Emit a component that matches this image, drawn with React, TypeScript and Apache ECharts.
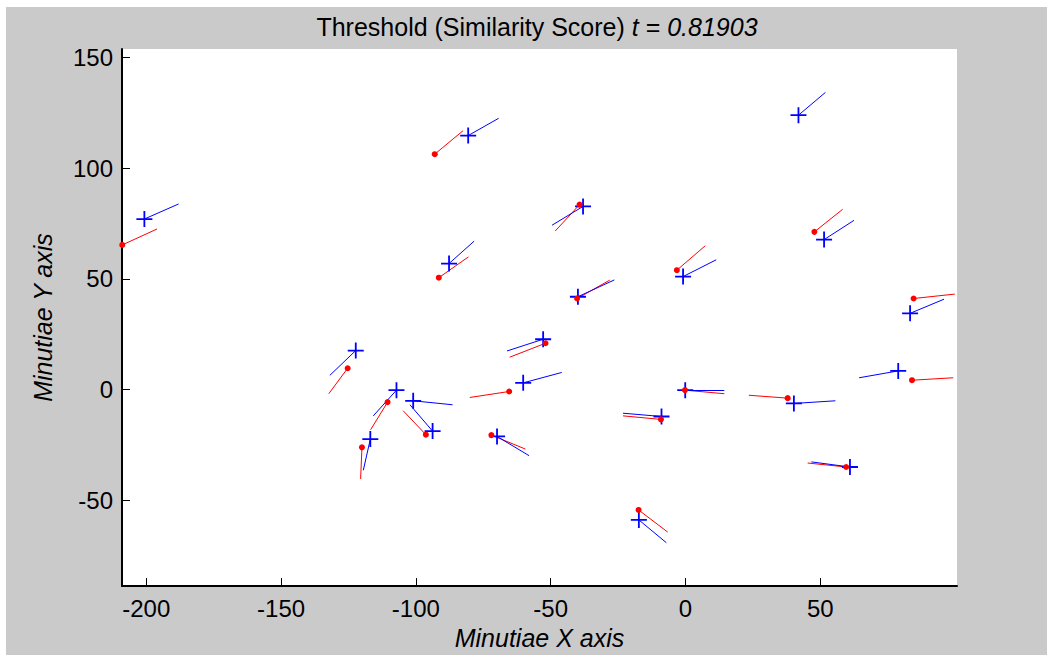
import { useEffect, useRef } from "react";
import * as echarts from "echarts";

const xTicks = [-200, -150, -100, -50, 0, 50];
const yTicks = [-50, 0, 50, 100, 150];

// Template minutiae (red): [x, y, directionEndX, directionEndY]
const templateMinutiae = [
  [-208.9, 65.3, -196, 72.5],
  [-93, 106.3, -82.5, 116.9],
  [-39.3, 83.5, -48.3, 71.6],
  [-3.2, 53.9, 7.3, 64.9],
  [-40.2, 41.1, -28.1, 49.4],
  [47.8, 71.2, 58.3, 81.4],
  [84.6, 41.1, 99.9, 43.1],
  [-91.5, 50.5, -80.5, 59.9],
  [-125.3, 9.6, -132.3, -1.9],
  [-110.5, -5.7, -116.8, -18.2],
  [-120, -26.1, -120.5, -40.4],
  [-96.3, -20.4, -104.7, -9.6],
  [-65.4, -0.9, -80, -3.6],
  [-51.9, 20.9, -65.2, 14.6],
  [-72, -20.6, -59.4, -26.9],
  [-9.1, -13.5, -23.2, -11.9],
  [-0.2, -0.3, 14.4, -1.9],
  [37.9, -3.9, 23.5, -2.6],
  [84, 4.2, 99.3, 5.3],
  [59.6, -35, 45.3, -33.2],
  [-17.4, -54.4, -6.6, -64.4],
];

// Query minutiae (blue): [x, y, directionEndX, directionEndY]
const queryMinutiae = [
  [-200.7, 77, -188, 83.8],
  [-80.6, 114.7, -69.3, 122.5],
  [41.9, 123.9, 51.9, 134.2],
  [-38, 82.7, -49.5, 74.2],
  [-0.9, 51, 11.4, 58.6],
  [-39.9, 41.9, -26.4, 49.5],
  [51.4, 67.7, 62.5, 76.4],
  [83.3, 34.4, 95.9, 40.8],
  [-87.7, 56.9, -78.4, 67],
  [-122.3, 17.6, -131.9, 6.4],
  [-107.2, -0.3, -115.8, -11.9],
  [-116.9, -22.4, -119.5, -36.5],
  [-101, -5.1, -86.4, -6.9],
  [-93.8, -18.8, -102.2, -6.9],
  [-60.2, 3, -45.9, 7.7],
  [-52.8, 22.7, -66.2, 17.4],
  [-69.9, -21.2, -58, -29.9],
  [-8.9, -12.2, -23.2, -10.7],
  [-0.1, -0.3, 14.4, -0.3],
  [40.2, -6.3, 55.6, -5.1],
  [78.9, 8.4, 64.4, 5.3],
  [61, -35, 46.7, -32.7],
  [-17.3, -58.9, -7.1, -69.2],
];

const FONT = "'Liberation Sans', Arial, Helvetica, sans-serif";
const CROSS = "path://M-8,-0.9 L8,-0.9 L8,0.9 L-8,0.9 Z M-0.9,-8 L0.9,-8 L0.9,8 L-0.9,8 Z";

export default function App() {
  const ref = useRef<HTMLDivElement>(null);

  useEffect(() => {
    const chart = echarts.init(ref.current!, null, { renderer: "svg" });
    const axisCommon = {
      type: "value" as const,
      axisLine: { show: true, onZero: false, lineStyle: { color: "#000", width: 2 } },
      splitLine: { show: false },
      nameLocation: "middle" as const,
      nameTextStyle: { fontSize: 25, fontStyle: "italic", color: "#000", fontFamily: FONT },
    };
    chart.setOption({
      animation: false,
      backgroundColor: "#cbcacb",
      grid: {
        left: 116,
        right: 90,
        top: 42,
        bottom: 63,
        show: true,
        backgroundColor: "#ffffff",
        borderWidth: 0,
      },
      graphic: [
        {
          type: "text",
          x: 531,
          y: 20,
          style: {
            text: "{n|Threshold (Similarity Score) }{i|t}{n| = }{i|0.81903}",
            align: "center",
            verticalAlign: "middle",
            rich: {
              n: { fontSize: 25, fontFamily: FONT, fill: "#000" },
              i: { fontSize: 25, fontFamily: FONT, fontStyle: "italic", fill: "#000" },
            },
          },
        },
      ],
      xAxis: {
        ...axisCommon,
        min: -209,
        max: 100.7,
        name: "Minutiae X axis",
        nameGap: 32,
        axisTick: { show: true, inside: true, length: 8, customValues: xTicks, lineStyle: { color: "#000", width: 1 } },
        axisLabel: { customValues: xTicks, fontSize: 24, color: "#000", fontFamily: FONT, margin: 10 },
      },
      yAxis: {
        ...axisCommon,
        min: -88.8,
        max: 153.8,
        name: "Minutiae Y axis",
        nameGap: 67,
        axisTick: { show: true, inside: true, length: 8, customValues: yTicks, lineStyle: { color: "#000", width: 1 } },
        axisLabel: { customValues: yTicks, fontSize: 24, color: "#000", fontFamily: FONT, margin: 9 },
      },
      series: [
        {
          type: "lines",
          coordinateSystem: "cartesian2d",
          silent: true,
          lineStyle: { color: "#ff0000", width: 1, opacity: 1 },
          data: templateMinutiae.map((m) => ({ coords: [[m[0], m[1]], [m[2], m[3]]] })),
          z: 2,
        },
        {
          type: "lines",
          coordinateSystem: "cartesian2d",
          silent: true,
          lineStyle: { color: "#0000ff", width: 1, opacity: 1 },
          data: queryMinutiae.map((m) => ({ coords: [[m[0], m[1]], [m[2], m[3]]] })),
          z: 3,
        },
        {
          type: "scatter",
          symbol: CROSS,
          symbolSize: 16,
          itemStyle: { color: "#0000ff", opacity: 1 },
          data: queryMinutiae.map((m) => [m[0], m[1]]),
          z: 4,
        },
        {
          type: "scatter",
          symbol: "circle",
          symbolSize: 6,
          itemStyle: { color: "#ff0000", opacity: 1 },
          data: templateMinutiae.map((m) => [m[0], m[1]]),
          z: 5,
        },
      ],
    });
    return () => chart.dispose();
  }, []);

  return (
    <div style={{ position: "absolute", left: 0, top: 0, width: 1047, height: 655, background: "#fff" }}>
      <div ref={ref} style={{ position: "absolute", left: 6, top: 7, width: 1041, height: 648 }} />
    </div>
  );
}
